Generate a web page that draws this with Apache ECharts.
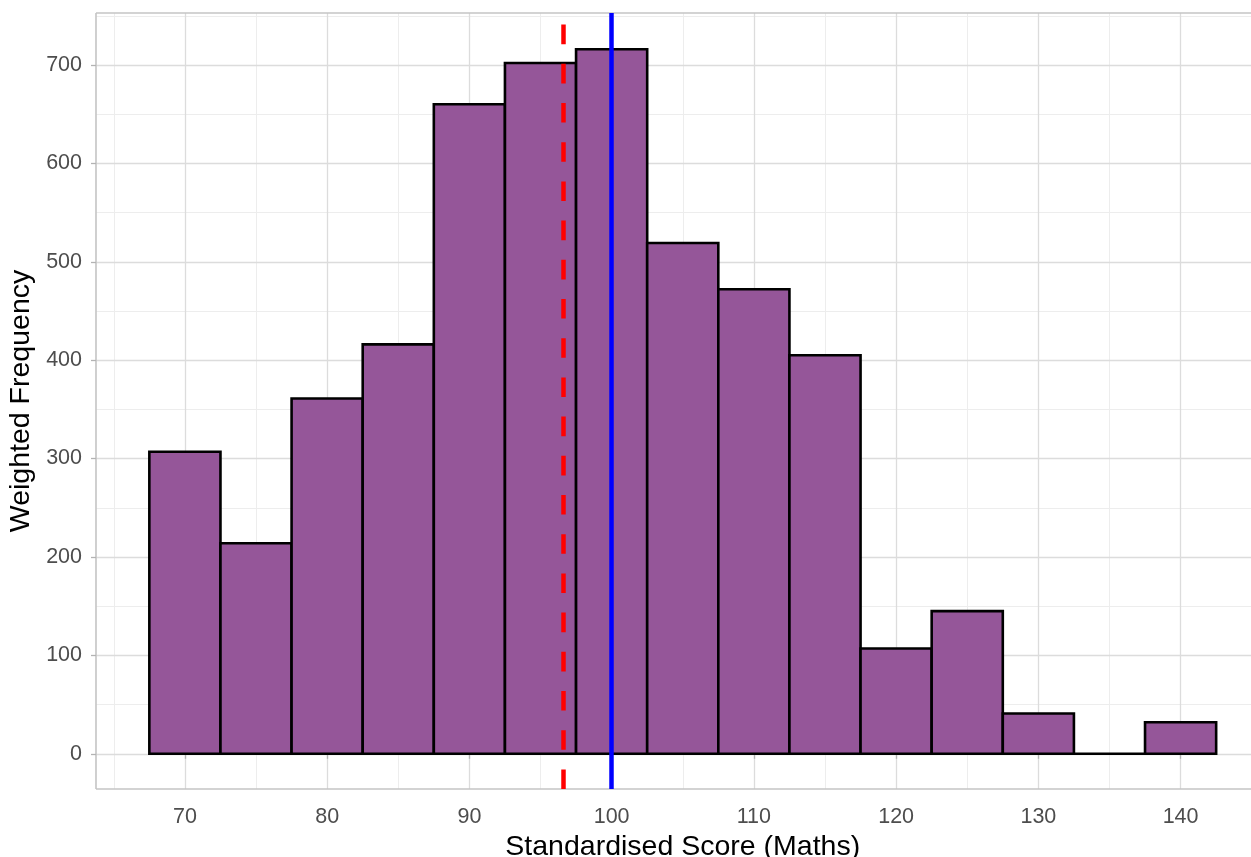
<!DOCTYPE html>
<html>
<head>
<meta charset="utf-8">
<script src="https://cdn.jsdelivr.net/npm/echarts@6/dist/echarts.min.js"></script>
<style>
html,body{margin:0;padding:0;background:#fff;}
#chart{width:1251px;height:857px;}
</style>
</head>
<body>
<div id="chart"></div>
<script>
// ---- data ----
const binCenters = [70, 75, 80, 85, 90, 95, 100, 105, 110, 115, 120, 125, 130, 135, 140];
const binWidth = 5;
const frequency = [307, 214, 361, 416, 660, 702, 716, 519, 472, 405, 107, 145, 41, 0, 32];
const xTicks = [70, 80, 90, 100, 110, 120, 130, 140];
const xMinorTicks = [65, 75, 85, 95, 105, 115, 125, 135, 145];
const yTicks = [0, 100, 200, 300, 400, 500, 600, 700];
const yMinorTicks = [50, 150, 250, 350, 450, 550, 650, 750];
const meanScore = 96.62;
const referenceScore = 100;
const xRange = [63.75, 146.25];
const yRange = [-35.8, 752.8];

const FONT = "'Liberation Sans', Arial, sans-serif";

const histData = binCenters.map((c, i) => [c - binWidth / 2, c + binWidth / 2, frequency[i]]);

const solid = (color, width) => ({ color: color, width: width, type: 'solid' });
const gridLines = []
  .concat(xMinorTicks.map(v => ({ xAxis: v, lineStyle: solid('#ededed', 1) })))
  .concat(yMinorTicks.map(v => ({ yAxis: v, lineStyle: solid('#ededed', 1) })))
  .concat(xTicks.map(v => ({ xAxis: v, lineStyle: solid('#dcdcdc', 1.3) })))
  .concat(yTicks.map(v => ({ yAxis: v, lineStyle: solid('#dcdcdc', 1.3) })))
  .concat([
    { xAxis: xRange[0], lineStyle: solid('#c4c4c4', 1.6) },
    { xAxis: xRange[1], lineStyle: solid('#c4c4c4', 1.6) },
    { yAxis: yRange[0], lineStyle: solid('#c4c4c4', 1.6) },
    { yAxis: yRange[1], lineStyle: solid('#c4c4c4', 1.6) }
  ]);

const chart = echarts.init(document.getElementById('chart'), null, { renderer: 'canvas' });
chart.setOption({
  animation: false,
  backgroundColor: '#ffffff',
  grid: {
    left: 96, top: 13, bottom: 68, right: -18.5,
    show: false, containLabel: false, outerBoundsMode: 'none'
  },
  xAxis: {
    type: 'value',
    min: xRange[0], max: xRange[1],
    name: 'Standardised Score (Maths)',
    nameLocation: 'middle', nameGap: 44,
    nameTextStyle: { fontFamily: FONT, fontSize: 28.5, color: '#000' },
    axisLine: { show: false },
    splitLine: { show: false },
    axisTick: { show: true, length: 5, lineStyle: { color: '#b3b3b3', width: 1.3 }, customValues: xTicks },
    axisLabel: { customValues: xTicks, margin: 17, fontFamily: FONT, fontSize: 21.5, color: '#4d4d4d' }
  },
  yAxis: {
    type: 'value',
    min: yRange[0], max: yRange[1],
    name: 'Weighted Frequency',
    nameLocation: 'middle', nameGap: 50,
    nameTextStyle: { fontFamily: FONT, fontSize: 28.5, color: '#000' },
    axisLine: { show: false },
    splitLine: { show: false },
    axisTick: { show: true, length: 5, lineStyle: { color: '#b3b3b3', width: 1.3 }, customValues: yTicks },
    axisLabel: { customValues: yTicks, margin: 14, fontFamily: FONT, fontSize: 21.5, color: '#4d4d4d' }
  },
  series: [
    {
      type: 'line', data: [], silent: true, z: 0,
      markLine: { z: 0, silent: true, symbol: 'none', label: { show: false }, animation: false, data: gridLines }
    },
    {
      type: 'custom', z: 2,
      data: histData,
      renderItem: function (params, api) {
        const p0 = api.coord([api.value(0), api.value(2)]);
        const p1 = api.coord([api.value(1), 0]);
        return {
          type: 'rect',
          shape: { x: p0[0], y: p0[1], width: p1[0] - p0[0], height: p1[1] - p0[1] },
          style: { fill: '#955699', stroke: '#000000', lineWidth: 2.6 }
        };
      }
    },
    {
      type: 'line', data: [], silent: true, z: 5,
      markLine: {
        z: 6, silent: true, symbol: 'none', label: { show: false }, animation: false,
        data: [
          [{ coord: [meanScore, yRange[0]] }, { coord: [meanScore, yRange[1]], lineStyle: { color: '#ff0000', width: 4.5, type: [19.6, 19.6] } }],
          [{ coord: [referenceScore, yRange[0]] }, { coord: [referenceScore, yRange[1]], lineStyle: { color: '#0000ff', width: 4.5, type: 'solid' } }]
        ]
      }
    }
  ]
});
</script>
</body>
</html>
